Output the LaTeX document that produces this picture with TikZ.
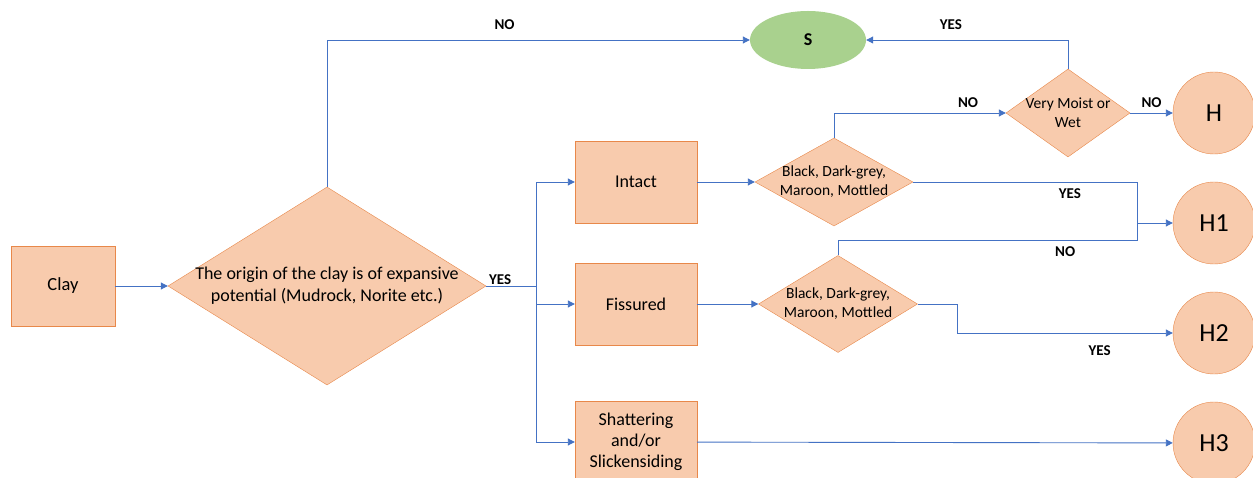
\documentclass[tikz,border=0pt]{standalone}
\usepackage{fontspec}
\setmainfont{Carlito}
\usetikzlibrary{arrows.meta,positioning,shapes.geometric}
\definecolor{peach}{HTML}{F8CBAD}
\definecolor{peachline}{HTML}{E8884A}
\definecolor{flowblue}{HTML}{4472C4}
\definecolor{leaf}{HTML}{A9D18E}

\begin{document}
\begin{tikzpicture}[
    x=1pt, y=-1pt,
    box/.style={rectangle, draw=peachline, fill=peach, minimum width=122pt, minimum height=82pt, align=center, inner sep=2pt, font=\fontsize{18}{21}\selectfont},
    decision/.style={diamond, draw=peachline, fill=peach, align=center, inner sep=-4pt, font=\fontsize{15.5}{19}\selectfont},
    result/.style={circle, draw=peachline, fill=peach, minimum size=82pt, inner sep=0pt, font=\fontsize{26}{30}\selectfont},
    link/.style={draw=flowblue, line width=0.9pt},
    arrow/.style={link, -{Triangle[length=7pt, width=7pt]}},
    lbl/.style={font=\fontsize{15}{16}\selectfont\bfseries, inner sep=1pt}
]
    \useasboundingbox[fill=white] (0,0) rectangle (1253,478);

    \node[box, minimum width=104pt, minimum height=80pt, font=\fontsize{18.5}{21}\selectfont] (clay) at (63,286) {Clay};
    \node[decision, aspect=1.6, inner sep=-6pt, minimum width=318pt, minimum height=198pt, font=\fontsize{18}{22}\selectfont] (origin) at (327,286) {The origin of the clay is of expansive\\potential (Mudrock, Norite etc.)};

    \node[box] (intact) at (636,182) {Intact};
    \node[box] (fissured) at (636,304) {Fissured};
    \node[box] (shatter) at (636,442) {Shattering\\and/or\\Slickensiding};

    \node[decision, aspect=1.8, minimum width=158pt, minimum height=88pt] (colour1) at (834,182) {Black, Dark-grey,\\Maroon, Mottled};
    \node[decision, aspect=1.64, minimum width=159pt, minimum height=97pt] (colour2) at (838,304) {Black, Dark-grey,\\Maroon, Mottled};
    \node[decision, aspect=1.41, minimum width=124pt, minimum height=88pt] (moist) at (1068,113) {Very Moist or\\Wet};

    \node[ellipse, fill=leaf, minimum width=116pt, minimum height=58pt, font=\fontsize{18}{18}\selectfont\bfseries] (s) at (808,40) {S};
    \node[result] (h) at (1214,113) {H};
    \node[result] (h1) at (1214,223) {H1};
    \node[result] (h2) at (1214,333) {H2};
    \node[result] (h3) at (1214,443) {H3};

    \coordinate (split) at (536,286);
    \coordinate (join) at (1137,223);
    \coordinate (joinlow) at (1137,240);

    \draw[arrow] (clay) -- (origin);
    \draw[link] (origin.east) -- node[lbl, pos=0, anchor=south, xshift=14pt]{YES} (split);
    \draw[arrow] (split) |- (intact);
    \draw[arrow] (split) |- (fissured);
    \draw[arrow] (split) |- (shatter);
    \draw[arrow] (origin.north) |- node[lbl, pos=0.71, above=9pt]{NO} (s);

    \draw[arrow] (intact) -- (colour1);
    \draw[arrow] (fissured) -- (colour2);
    \draw[arrow] (colour1.north) |- node[lbl, pos=0.89, above=4pt]{NO} (moist);
    \draw[arrow] (moist.north) |- node[lbl, pos=0.79, above=9pt]{YES} (s);
    \draw[arrow] (moist) -- node[lbl, above=4pt]{NO} (h);

    \draw[link] (colour1.east) -| node[lbl, pos=0.35, below=5pt]{YES} (join);
    \draw[link] (colour2.north) |- node[lbl, pos=0.88, below=5pt]{NO} (joinlow) -- (join);
    \draw[arrow] (join) -- (h1);
    \draw[arrow] (colour2.east) -- ++(40,0) |- node[lbl, pos=0.83, below=11pt]{YES} (h2);
    \draw[arrow] (shatter) -- (h3);
\end{tikzpicture}
\end{document}
